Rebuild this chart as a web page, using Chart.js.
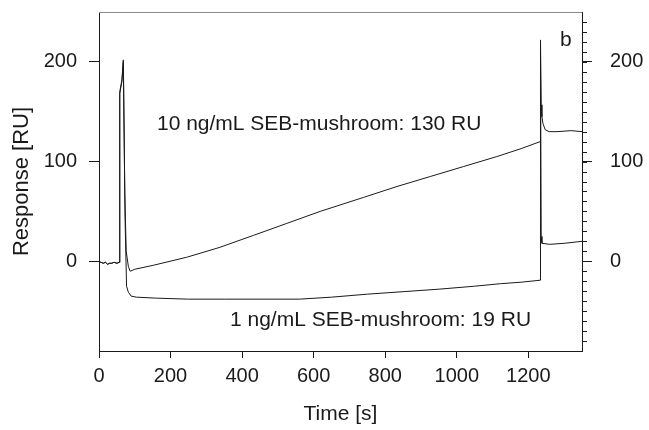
<!DOCTYPE html>
<html>
<head>
<meta charset="utf-8">
<script src="https://cdn.jsdelivr.net/npm/chart.js@4.4.1/dist/chart.umd.min.js"></script>
<style>
  html, body { margin: 0; padding: 0; background: #fff; }
  #wrap { width: 649px; height: 430px; position: relative; }
</style>
</head>
<body>
<div id="wrap"><canvas id="c" width="649" height="430"></canvas></div>
<script>
// ---- data ----
const time10 = [0, 1, 5, 12, 18, 24, 30, 36, 42, 50, 57, 58, 64, 68, 72, 76, 82, 87, 100, 152, 245, 338, 432, 525, 618, 739, 833, 926, 1019, 1112, 1180, 1233, 1234, 1236, 1238, 1241, 1247, 1258, 1280, 1320, 1350];
const resp10 = [-55, -1, -1, -2, -1, -3, -2, -2, -1, -2, -1, 170, 182, 202, 70, 10, -5, -10, -8, -4, 4, 14, 26, 38, 50, 64, 75, 85, 95, 105, 113, 120, 222, 157, 145, 138, 132, 130, 130, 131, 130];

const time1 = [0, 1, 5, 12, 18, 24, 30, 36, 42, 50, 57, 58, 64, 68, 73, 77, 82, 90, 105, 160, 250, 350, 450, 560, 650, 750, 850, 950, 1050, 1122, 1180, 1233, 1234, 1236, 1238, 1260, 1300, 1350];
const resp1 = [-55, -1, -1, -2, -1, -3, -2, -2, -1, -2, -1, 168, 180, 200, 40, -25, -31, -35, -36, -37, -38, -38, -38, -38, -36, -33, -30.5, -28, -25, -22.5, -21, -19, 210, 25, 18, 17, 18, 20];

const xTickValues = [0, 200, 400, 600, 800, 1000, 1200];
const yTickValues = [0, 100, 200];
const yMinorValues = [-80, -70, -60, -50, -40, -30, -20, -10, 0, 10, 20, 30, 40, 50, 60, 70, 80, 90, 100, 110, 120, 130, 140, 150, 160, 170, 180, 190, 200, 210, 220, 230, 240];

const labelHigh = "10 ng/mL SEB-mushroom: 130 RU";
const labelLow = "1 ng/mL SEB-mushroom: 19 RU";
const panelLabel = "b";
// anchor points of the texts, in data units (time, response)
const labelHighAt = [162, 137.5];
const labelLowAt = [366, -59];
const panelLabelAt = [1305, 222];

const toPoints = (ts, vs) => ts.map((t, i) => ({ x: t, y: vs[i] }));

const FONT = "'Liberation Sans', Arial, Helvetica, sans-serif";
const INK = '#1a1a1a';

const decorations = {
  id: 'decorations',
  afterDraw(chart) {
    const { ctx, chartArea: a, scales } = chart;
    const x = scales.x, y = scales.y, y2 = scales.y2;
    ctx.save();
    // top frame line
    ctx.strokeStyle = '#8a8a8a';
    ctx.lineWidth = 1;
    ctx.beginPath();
    ctx.moveTo(a.left, a.top + 0.5);
    ctx.lineTo(a.right, a.top + 0.5);
    ctx.stroke();
    // minor ticks on the right axis
    ctx.strokeStyle = INK;
    ctx.beginPath();
    yMinorValues.forEach(v => {
      const py = Math.round(y2.getPixelForValue(v)) + 0.5;
      ctx.moveTo(y2.left, py);
      ctx.lineTo(y2.left + 5, py);
    });
    ctx.stroke();
    // texts
    ctx.fillStyle = INK;
    ctx.textBaseline = 'middle';
    ctx.font = `21px ${FONT}`;
    ctx.textAlign = 'left';
    ctx.fillText(labelHigh, x.getPixelForValue(labelHighAt[0]), y.getPixelForValue(labelHighAt[1]));
    ctx.fillText(labelLow, x.getPixelForValue(labelLowAt[0]), y.getPixelForValue(labelLowAt[1]));
    ctx.textAlign = 'center';
    ctx.fillText(panelLabel, x.getPixelForValue(panelLabelAt[0]), y.getPixelForValue(panelLabelAt[1]));
    ctx.restore();
  }
};

const axisCommon = {
  border: { display: true, color: INK, width: 1 },
  grid: { display: true, drawOnChartArea: false, drawTicks: true, color: INK, tickColor: INK, tickWidth: 1 },
};

const fitY = w => s => { s.width = w; s.paddingTop = 0; s.paddingBottom = 0; };

new Chart(document.getElementById('c'), {
  type: 'line',
  data: {
    datasets: [
      { label: '10 ng/mL', data: toPoints(time10, resp10), borderColor: INK, borderWidth: 1, pointRadius: 0, tension: 0, fill: false },
      { label: '1 ng/mL', data: toPoints(time1, resp1), borderColor: INK, borderWidth: 1, pointRadius: 0, tension: 0, fill: false }
    ]
  },
  options: {
    responsive: false,
    animation: false,
    devicePixelRatio: 1,
    layout: { padding: { top: 12, left: 0, right: 0, bottom: 0 } },
    plugins: { legend: { display: false }, tooltip: { enabled: false } },
    scales: {
      x: {
        type: 'linear', position: 'bottom', min: 0, max: 1350,
        ...axisCommon,
        grid: { ...axisCommon.grid, tickLength: 7 },
        afterBuildTicks: s => { s.ticks = xTickValues.map(v => ({ value: v })); },
        afterFit: s => { s.height = 79; },
        ticks: { color: INK, font: { family: FONT, size: 20 }, padding: 6, maxRotation: 0, autoSkip: false, callback: v => String(v) },
        title: { display: true, text: 'Time [s]', color: INK, font: { family: FONT, size: 21 }, padding: { top: 0, bottom: 3 } }
      },
      y: {
        type: 'linear', position: 'left', min: -90, max: 250,
        ...axisCommon,
        grid: { ...axisCommon.grid, tickLength: 10 },
        afterBuildTicks: s => { s.ticks = yTickValues.map(v => ({ value: v })); },
        afterFit: fitY(99),
        ticks: { color: INK, font: { family: FONT, size: 20 }, padding: 12, callback: v => String(v) },
        title: { display: true, text: 'Response [RU]', color: INK, font: { family: FONT, size: 22 }, padding: { top: 9, bottom: 0 } }
      },
      y2: {
        type: 'linear', position: 'right', min: -90, max: 250,
        ...axisCommon,
        grid: { ...axisCommon.grid, tickLength: 10 },
        afterBuildTicks: s => { s.ticks = yTickValues.map(v => ({ value: v })); },
        afterFit: fitY(67),
        ticks: { color: INK, font: { family: FONT, size: 20 }, padding: 18, callback: v => String(v) }
      }
    }
  },
  plugins: [decorations]
});
</script>
</body>
</html>
